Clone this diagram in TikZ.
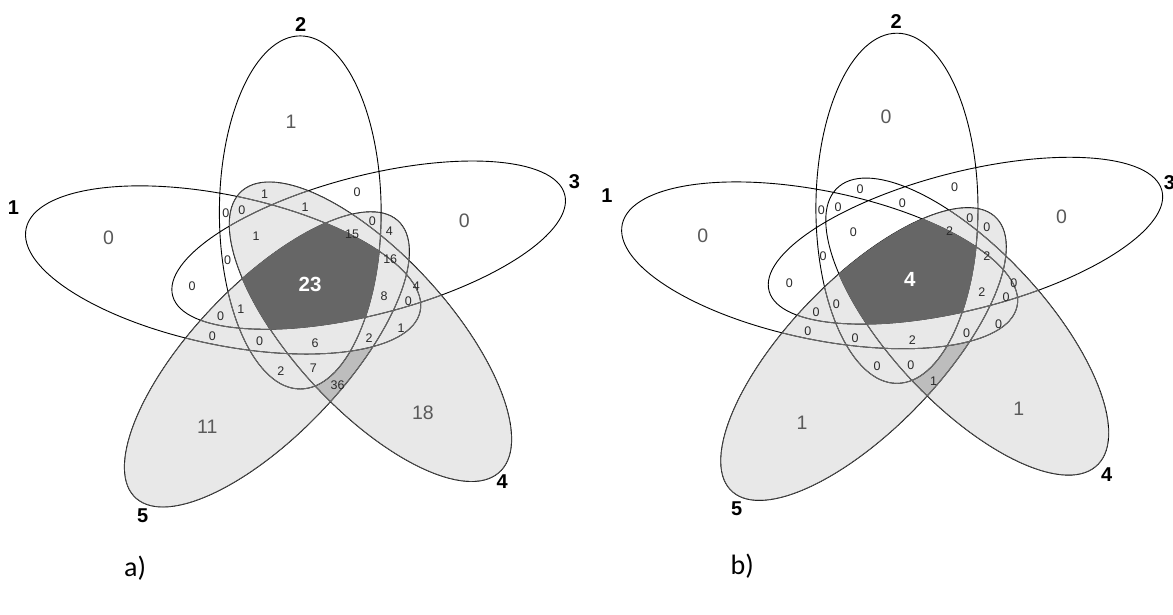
\documentclass[tikz,border=0pt]{standalone}
\usepackage{fontspec}
\setmainfont{Liberation Sans}
\newfontfamily\capfont{Carlito}
\definecolor{lightfill}{HTML}{E8E8E8}
\definecolor{midfill}{HTML}{BDBDBD}
\definecolor{darkfill}{HTML}{666666}
\definecolor{inline}{HTML}{6A6A6A}
\definecolor{numcol}{HTML}{2A2A2A}
\definecolor{bigcol}{HTML}{5A5A5A}
\newcommand\EllOne{{[shift={(220.7,278.3)},rotate=-12.5] (0,0) ellipse [x radius=199.5,y radius=77]}}
\newcommand\EllTwo{{[shift={(297,219)},rotate=-90] (0,0) ellipse [x radius=182,y radius=80]}}
\newcommand\EllThree{{[shift={(364.65,252.7)},rotate=15.2] (0,0) ellipse [x radius=200.8,y radius=71.4]}}
\newcommand\EllFour{{[shift={(366.4,342)},rotate=-49] (0,0) ellipse [x radius=193,y radius=78]}}
\newcommand\EllFive{{[shift={(264,370.5)},rotate=48] (0,0) ellipse [x radius=193,y radius=76]}}
\newcommand\BigRect{(-60,-60) rectangle (660,660)}
\newcommand\AllLines{\EllOne \EllTwo \EllThree \EllFour \EllFive}
\tikzset{
  setline/.style={line width=0.9pt},
  smallnum/.style={font=\fontsize{12.5}{14}\selectfont, text=numcol, inner sep=0pt},
  bignum/.style={font=\fontsize{19.5}{22}\selectfont, text=bigcol, inner sep=0pt},
  setlabel/.style={font=\bfseries\fontsize{20}{24}\selectfont, inner sep=0pt},
  centernum/.style={font=\bfseries\fontsize{20.5}{24}\selectfont, text=white, inner sep=0pt},
  caption/.style={font=\capfont\fontsize{28}{32}\selectfont, inner sep=0pt},
}
\newcommand\MidFill{%
  \begin{scope}[even odd rule]
    \clip \EllFour; \clip \EllFive;
    \clip \BigRect \EllOne;
    \clip \BigRect \EllTwo;
    \clip \BigRect \EllThree;
    \fill[midfill] \BigRect;
  \end{scope}}
\newcommand\DarkCore{%
  \begin{scope}
    \clip \EllOne; \clip \EllTwo; \clip \EllThree; \clip \EllFour; \clip \EllFive;
    \fill[darkfill] \BigRect;
  \end{scope}}
\begin{document}
\begin{tikzpicture}[x=1pt,y=-1pt]
\useasboundingbox (0,0) rectangle (1173,614);
\fill[white] (0,0) rectangle (1173,614);
% ================= diagram a =================
\begin{scope}[xscale=1.011,yscale=0.97]
  \fill[lightfill] \EllFour \EllFive;
  \MidFill
  \draw[setline] \AllLines;
  \begin{scope}
    \clip \EllFour \EllFive;
    \draw[setline,inline] \AllLines;
  \end{scope}
  \DarkCore
  % labels a
  \node[setlabel] (a1) at (13.2,213.7) {1};
  \node[setlabel] (a2) at (297.3,25.5) {2};
  \node[setlabel] (a3) at (568.3,187.5) {3};
  \node[setlabel] (a4) at (496.8,496) {4};
  \node[setlabel] (a5) at (141.1,531.4) {5};
  \node[caption] (acap) at (133.6,586) {a)};
  \node[bignum] (ab1) at (107.3,245) {0};
  \node[bignum] (ab2) at (287.9,125.5) {1};
  \node[bignum] (ab3) at (459.2,227.5) {0};
  \node[bignum] (ab4) at (418.3,426) {18};
  \node[bignum] (ab5) at (205,440) {11};
  \node[centernum] (ac) at (306.7,293.3) {23};
  \node[smallnum] (as1) at (261.7,200) {1};
  \node[smallnum] (as2) at (353.3,198.3) {0};
  \node[smallnum] (as3) at (223.3,220) {0};
  \node[smallnum] (as4) at (239.3,216.7) {0};
  \node[smallnum] (as5) at (301.7,213.3) {1};
  \node[smallnum] (as6) at (253.3,243.3) {1};
  \node[smallnum] (as7) at (348.3,241.7) {15};
  \node[smallnum] (as8) at (368.3,228.3) {0};
  \node[smallnum] (as9) at (385,238.3) {4};
  \node[smallnum] (as10) at (386,267.3) {16};
  \node[smallnum] (as11) at (225,268.3) {0};
  \node[smallnum] (as12) at (190,295) {0};
  \node[smallnum] (as13) at (411.7,295) {4};
  \node[smallnum] (as14) at (380,305) {8};
  \node[smallnum] (as15) at (404,310) {0};
  \node[smallnum] (as16) at (238.3,318.3) {1};
  \node[smallnum] (as17) at (218.3,326) {0};
  \node[smallnum] (as18) at (396.7,338.3) {1};
  \node[smallnum] (as19) at (210,346.7) {0};
  \node[smallnum] (as20) at (256.7,351.7) {0};
  \node[smallnum] (as21) at (311.7,353.3) {6};
  \node[smallnum] (as22) at (365,348.3) {2};
  \node[smallnum] (as23) at (277.7,382.7) {2};
  \node[smallnum] (as24) at (310,380) {7};
  \node[smallnum] (as25) at (334,396.7) {36};
\end{scope}
% ================= diagram b =================
\begin{scope}[shift={(590,0)},xscale=1.013,yscale=0.962,shift={(-590,0)}]
  \begin{scope}[shift={(596,-2.5)}]
    \fill[lightfill] \EllFive;
    \begin{scope}[even odd rule]
      \clip \BigRect \EllTwo;
      \fill[lightfill] \EllFour;
    \end{scope}
    \MidFill
    \draw[setline] \AllLines;
    \begin{scope}
      \clip \EllFive;
      \draw[setline,inline] \AllLines;
    \end{scope}
    \begin{scope}[even odd rule]
      \clip \EllFour;
      \clip \BigRect \EllTwo;
      \draw[setline,inline] \AllLines;
    \end{scope}
    \DarkCore
  \end{scope}
  % labels b
  \node[setlabel] (b1) at (606.7,203.5) {1};
  \node[setlabel] (b2) at (892.3,22.7) {2};
  \node[setlabel] (b3) at (1162,189.8) {3};
  \node[setlabel] (b4) at (1100,493.2) {4};
  \node[setlabel] (b5) at (734.7,528.4) {5};
  \node[caption] (bcap) at (740.2,589) {b)};
  \node[bignum] (bb1) at (701.3,244.6) {0};
  \node[bignum] (bb2) at (882.3,121.3) {0};
  \node[bignum] (bb3) at (1055.5,225) {0};
  \node[bignum] (bb4) at (1013.3,425) {1};
  \node[bignum] (bb5) at (799.3,440) {1};
  \node[centernum] (bc) at (905.7,290) {4};
  \node[smallnum] (bs1) at (856.7,196.7) {0};
  \node[smallnum] (bs2) at (950,195) {0};
  \node[smallnum] (bs3) at (818.3,218.3) {0};
  \node[smallnum] (bs4) at (835,215) {0};
  \node[smallnum] (bs5) at (898.3,211.7) {0};
  \node[smallnum] (bs6) at (965,226.7) {0};
  \node[smallnum] (bs7) at (981.7,236) {0};
  \node[smallnum] (bs8) at (850,241.7) {0};
  \node[smallnum] (bs9) at (945,240) {2};
  \node[smallnum] (bs10) at (981.7,266.7) {2};
  \node[smallnum] (bs11) at (820,266.7) {0};
  \node[smallnum] (bs12) at (786.7,294) {0};
  \node[smallnum] (bs13) at (1008.3,294) {0};
  \node[smallnum] (bs14) at (976.7,303.3) {2};
  \node[smallnum] (bs15) at (1000.7,309.3) {0};
  \node[smallnum] (bs16) at (833.3,316.7) {0};
  \node[smallnum] (bs17) at (813.3,325) {0};
  \node[smallnum] (bs18) at (993.3,336.7) {0};
  \node[smallnum] (bs19) at (805,344) {0};
  \node[smallnum] (bs20) at (961.7,346) {0};
  \node[smallnum] (bs21) at (851.7,351.7) {0};
  \node[smallnum] (bs22) at (908.3,353.3) {2};
  \node[smallnum] (bs23) at (873.3,381) {0};
  \node[smallnum] (bs24) at (906.7,379.3) {0};
  \node[smallnum] (bs25) at (929.3,396) {1};
\end{scope}
\end{tikzpicture}
\end{document}
